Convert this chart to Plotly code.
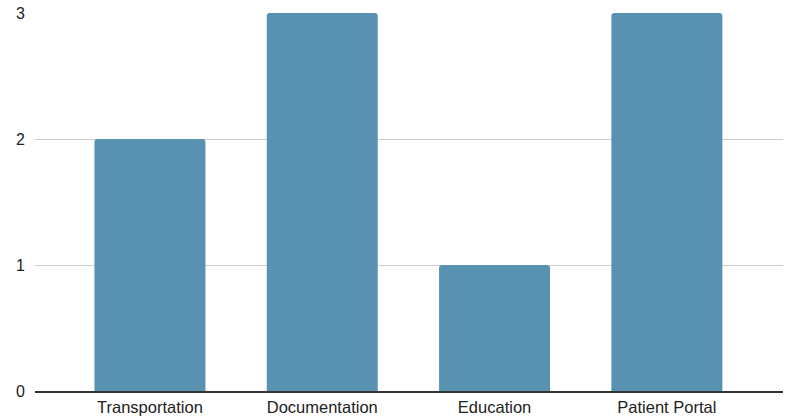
import plotly.graph_objects as go

categories = ["Transportation", "Documentation", "Education", "Patient Portal"]
values = [2, 3, 1, 3]
y_ticks = [0, 1, 2, 3]

fig = go.Figure()
fig.add_trace(go.Bar(
    x=list(range(len(categories))),
    y=values,
    marker=dict(color="#5892B0", cornerradius=3, line=dict(width=0)),
))

fig.update_layout(
    width=789, height=418,
    margin=dict(l=35, r=6, t=13, b=27),
    paper_bgcolor="white", plot_bgcolor="white",
    bargap=0.356,
    showlegend=False,
    font=dict(family="Liberation Sans, Arial, sans-serif", size=16, color="#222222"),
    xaxis=dict(
        tickmode="array",
        tickvals=list(range(len(categories))),
        ticktext=categories,
        range=[-0.667, 3.674],
        showgrid=False,
        zeroline=False,
        showline=True, linecolor="#333333", linewidth=1.5,
        ticks="", ticklabelstandoff=0,
        automargin=False,
        tickfont=dict(size=16.5, color="#222222"),
    ),
    yaxis=dict(
        range=[0, 3],
        tickmode="array",
        tickvals=y_ticks,
        ticktext=[str(v) for v in y_ticks],
        showgrid=True, gridcolor="#CCCCCC", gridwidth=1,
        zeroline=False,
        showline=False,
        ticks="", ticklabelstandoff=9,
        automargin=False,
        tickfont=dict(size=16, color="#222222"),
    ),
)

fig.write_html("out.html")
